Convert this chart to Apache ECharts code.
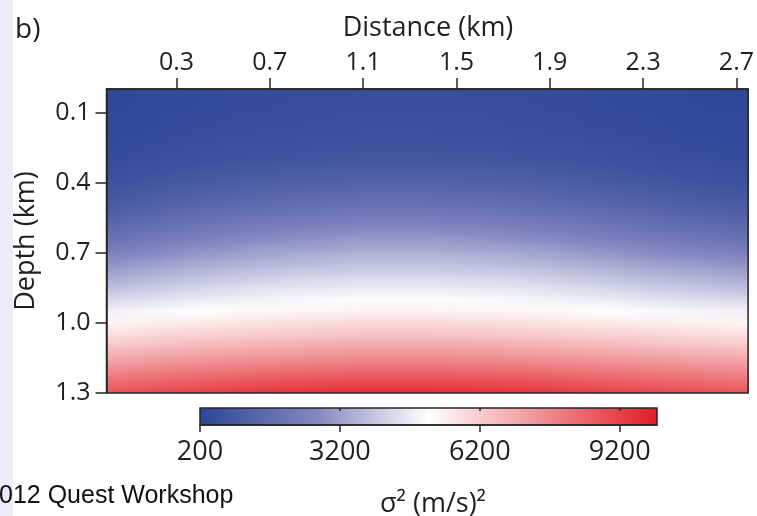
<!DOCTYPE html>
<html><head><meta charset="utf-8">
<script src="https://cdn.jsdelivr.net/npm/echarts@6/dist/echarts.min.js"></script>
<style>html,body{margin:0;padding:0;background:#fff}#c{width:757px;height:516px}</style>
</head><body><div id="c"></div><script>
// ---- data ----
const distanceTicks = [0.3, 0.7, 1.1, 1.5, 1.9, 2.3, 2.7];
const depthTicks = [0.1, 0.4, 0.7, 1.0, 1.3];
const colorbarTicks = [200, 3200, 6200, 9200];
const distanceRange = [0, 2.75];
const depthRange = [0, 1.3];
const sigmaRange = [200, 10000];
// sampled distances (km)
const distances = [0, 0.275, 0.55, 0.825, 1.1, 1.375, 1.65, 1.925, 2.2, 2.475, 2.75];
// sampled depths (km)
const depths = [0, 0.1, 0.2, 0.3, 0.4, 0.5, 0.6, 0.65, 0.7, 0.75, 0.8, 0.85, 0.9, 0.95, 1.0, 1.05, 1.1, 1.15, 1.2, 1.25, 1.3];
// sigma^2 (m/s)^2, one row per depth, one value per distance
const sigma2 = [
  [250, 340, 410, 460, 500, 500, 480, 430, 360, 300, 250],
  [300, 390, 460, 510, 550, 550, 530, 480, 410, 350, 300],
  [350, 460, 550, 600, 650, 650, 620, 560, 490, 410, 350],
  [450, 590, 710, 790, 850, 850, 810, 730, 630, 530, 450],
  [650, 880, 1070, 1200, 1300, 1300, 1240, 1110, 940, 780, 650],
  [1000, 1320, 1590, 1770, 1900, 1900, 1810, 1630, 1410, 1180, 1000],
  [1600, 1990, 2320, 2540, 2700, 2700, 2590, 2370, 2100, 1820, 1600],
  [2000, 2390, 2720, 2940, 3100, 3100, 2990, 2770, 2500, 2220, 2000],
  [2450, 2820, 3130, 3340, 3500, 3500, 3400, 3190, 2920, 2660, 2450],
  [2900, 3250, 3550, 3750, 3900, 3900, 3800, 3600, 3350, 3100, 2900],
  [3350, 3680, 3970, 4160, 4300, 4300, 4210, 4020, 3780, 3540, 3350],
  [3800, 4120, 4390, 4570, 4700, 4700, 4610, 4430, 4210, 3980, 3800],
  [4300, 4560, 4790, 4940, 5050, 5050, 4980, 4830, 4640, 4450, 4300],
  [4800, 5010, 5190, 5310, 5400, 5400, 5340, 5220, 5070, 4920, 4800],
  [5300, 5510, 5690, 5810, 5900, 5900, 5840, 5720, 5570, 5420, 5300],
  [5800, 6010, 6190, 6310, 6400, 6400, 6340, 6220, 6070, 5920, 5800],
  [6350, 6580, 6770, 6900, 7000, 7000, 6940, 6810, 6640, 6480, 6350],
  [6950, 7180, 7370, 7500, 7600, 7600, 7540, 7410, 7240, 7080, 6950],
  [7600, 7850, 8060, 8200, 8300, 8300, 8230, 8090, 7920, 7740, 7600],
  [8200, 8480, 8720, 8880, 9000, 9000, 8920, 8760, 8560, 8360, 8200],
  [8800, 9080, 9320, 9480, 9600, 9600, 9520, 9360, 9160, 8960, 8800]
];
const cmapValues = [200, 2650, 5100, 7550, 10000];
const cmapColors = ['#2c4697', '#8285bf', '#ffffff', '#f08f93', '#e31c24'];

// ---- helpers ----
function hex2rgb(h){return [parseInt(h.slice(1,3),16),parseInt(h.slice(3,5),16),parseInt(h.slice(5,7),16)];}
const cmapRGB = cmapColors.map(hex2rgb);
function colorOf(v){
  if (v <= cmapValues[0]) return 'rgb(' + cmapRGB[0].join(',') + ')';
  for (let k = 1; k < cmapValues.length; k++) {
    if (v <= cmapValues[k]) {
      const t = (v - cmapValues[k-1]) / (cmapValues[k] - cmapValues[k-1]);
      const a = cmapRGB[k-1], b = cmapRGB[k];
      return 'rgb(' + [0,1,2].map(i => Math.round(a[i] + (b[i]-a[i])*t)).join(',') + ')';
    }
  }
  return 'rgb(' + cmapRGB[cmapRGB.length-1].join(',') + ')';
}

const ink = '#1f1f1f';
const frame = '#262626';
const FONT = '"Open Sans", "Noto Sans", sans-serif';

const chart = echarts.init(document.getElementById('c'), null, {renderer: 'canvas'});

// one item per pair of neighbouring sampled distances (gouraud-like shading)
const segData = distances.slice(0, -1).map((d, i) => [d, i]);

function renderSegment(params, api){
  const i = api.value(1);
  const pL = api.coord([distances[i], depthRange[0]]);
  const pR = api.coord([distances[i+1], depthRange[1]]);
  const yTop = Math.min(pL[1], pR[1]), yBot = Math.max(pL[1], pR[1]);
  const xL = Math.min(pL[0], pR[0]), xR = Math.max(pL[0], pR[0]);
  const offs = depths.map(z => (api.coord([distances[i], z])[1] - yTop) / (yBot - yTop));
  const px0 = Math.floor(xL), px1 = Math.ceil(xR);
  const children = [];
  for (let px = px0; px < px1; px++) {
    let t = (px + 0.5 - xL) / (xR - xL);
    t = Math.max(0, Math.min(1, t));
    const stops = depths.map((z, j) => ({
      offset: offs[j],
      color: colorOf(sigma2[j][i] * (1 - t) + sigma2[j][i+1] * t)
    }));
    children.push({
      type: 'rect',
      shape: {x: px, y: Math.floor(yTop), width: 1, height: Math.ceil(yBot) - Math.floor(yTop)},
      style: {fill: new echarts.graphic.LinearGradient(0, 0, 0, 1, stops)}
    });
  }
  return {type: 'group', children: children};
}

function renderColorbar(params, api){
  const p0 = api.coord([sigmaRange[0], 0]);
  const p1 = api.coord([sigmaRange[1], 1]);
  const x0 = Math.min(p0[0], p1[0]), x1 = Math.max(p0[0], p1[0]);
  const y0 = Math.min(p0[1], p1[1]), y1 = Math.max(p0[1], p1[1]);
  const stops = cmapValues.map((v, k) => ({offset: (v - sigmaRange[0]) / (sigmaRange[1] - sigmaRange[0]), color: cmapColors[k]}));
  return {
    type: 'rect',
    shape: {x: x0, y: y0, width: x1 - x0, height: y1 - y0},
    style: {fill: new echarts.graphic.LinearGradient(0, 0, 1, 0, stops)}
  };
}

const option = {
  backgroundColor: '#ffffff',
  animation: false,
  textStyle: {fontFamily: FONT, color: ink},
  grid: [
    {left: 106.5, top: 89, width: 642.5, height: 304, show: true, borderColor: frame, borderWidth: 1.5, backgroundColor: 'transparent', z: 10},
    {left: 200, top: 408, width: 457, height: 17, show: true, borderColor: frame, borderWidth: 1.5, backgroundColor: 'transparent', z: 10}
  ],
  xAxis: [
    {
      gridIndex: 0, type: 'value', position: 'top', min: distanceRange[0], max: distanceRange[1], z: 10,
      axisLine: {show: true, lineStyle: {color: frame, width: 1.5}},
      axisTick: {show: true, customValues: distanceTicks, length: 11, inside: false, lineStyle: {color: frame, width: 1.5}},
      axisLabel: {show: true, customValues: distanceTicks, formatter: v => v.toFixed(1), fontSize: 25, color: ink, margin: 14, fontFamily: FONT},
      splitLine: {show: false}
    },
    {
      gridIndex: 1, type: 'value', position: 'bottom', min: sigmaRange[0], max: sigmaRange[1], z: 10,
      axisLine: {show: true, lineStyle: {color: frame, width: 1.5}},
      axisTick: {show: true, customValues: colorbarTicks, length: 7, inside: false, lineStyle: {color: frame, width: 1.5}},
      axisLabel: {show: true, customValues: colorbarTicks, formatter: v => String(v), fontSize: 27, color: ink, margin: 14, fontFamily: FONT},
      splitLine: {show: false}
    },
    {
      gridIndex: 1, type: 'value', position: 'top', min: sigmaRange[0], max: sigmaRange[1], z: 10,
      axisLine: {show: false},
      axisTick: {show: true, customValues: colorbarTicks.slice(1), length: 3, inside: true, lineStyle: {color: frame, width: 1.5}},
      axisLabel: {show: false},
      splitLine: {show: false}
    }
  ],
  yAxis: [
    {
      gridIndex: 0, type: 'value', position: 'left', min: depthRange[0], max: depthRange[1], inverse: true, z: 10,
      axisLine: {show: true, lineStyle: {color: frame, width: 1.5}},
      axisTick: {show: true, customValues: depthTicks, length: 11, inside: false, lineStyle: {color: frame, width: 1.5}},
      axisLabel: {show: true, customValues: depthTicks, formatter: v => v.toFixed(1), fontSize: 25, color: ink, margin: 16, fontFamily: FONT},
      splitLine: {show: false}
    },
    {
      gridIndex: 1, type: 'value', min: 0, max: 1, show: false
    }
  ],
  series: [
    {type: 'custom', xAxisIndex: 0, yAxisIndex: 0, data: segData, renderItem: renderSegment, silent: true, z: 1, clip: true},
    {type: 'custom', xAxisIndex: 1, yAxisIndex: 1, data: [[sigmaRange[0], 0]], renderItem: renderColorbar, silent: true, z: 1}
  ],
  graphic: [
    {type: 'rect', left: 0, top: 0, z: -10, shape: {width: 13, height: 516}, style: {fill: '#ebebfa'}},
    {type: 'text', x: 15, y: 30, style: {text: 'b)', font: '28px ' + FONT, fill: ink, textAlign: 'left', textVerticalAlign: 'middle'}},
    {type: 'text', x: 428, y: 28, style: {text: 'Distance (km)', font: '27px ' + FONT, fill: ink, textAlign: 'center', textVerticalAlign: 'middle'}},
    {type: 'text', x: 26, y: 241, rotation: Math.PI / 2, style: {text: 'Depth (km)', font: '27px ' + FONT, fill: ink, textAlign: 'center', textVerticalAlign: 'middle'}},
    {type: 'text', x: 433, y: 504, style: {text: 'σ² (m/s)²', font: '27px ' + FONT, fill: ink, textAlign: 'center', textVerticalAlign: 'middle'}},
    {type: 'text', x: -1, y: 496, z: 5, style: {text: '012 Quest Workshop', font: '25px "Liberation Sans", Arial, sans-serif', fill: '#111', textAlign: 'left', textVerticalAlign: 'middle'}}
  ]
};
chart.setOption(option);
</script></body></html>
